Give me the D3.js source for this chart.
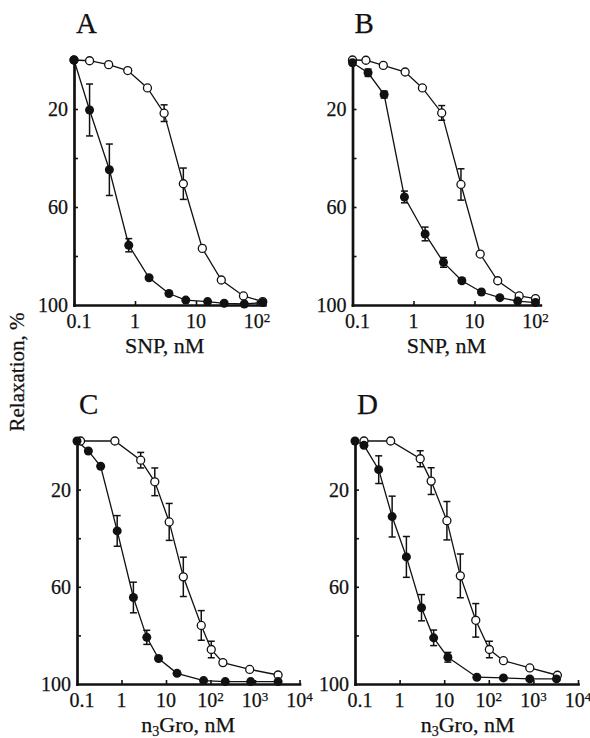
<!DOCTYPE html>
<html>
<head>
<meta charset="utf-8" />
<title>Relaxation curves</title>
<script src="https://d3js.org/d3.v7.min.js"></script>
<style>
    body { margin: 0; background: #fff; }
    text { font-family: "Liberation Serif", "Times New Roman", serif; fill: #111; stroke: #111; stroke-width: 0.25px; }
</style>
</head>
<body>
<div id="fig"></div>
<script type="text/javascript">
    // values: x in nM, y in % relaxation (0 at top, 100 at bottom)
    // panel A (SNP)
    var aFilledX = [0.1, 0.18, 0.38, 0.79, 1.7, 3.6, 6.8, 15.5, 29, 62, 124];
    var aFilledY = [0, 20.4, 44.8, 75.6, 88.9, 95.3, 98, 98.6, 99.3, 99.6, 99];
    var aFilledErr = [0, 10.6, 10.5, 2.7, 0, 0, 0, 0, 0, 0, 0];
    var aOpenX = [0.1, 0.18, 0.37, 0.76, 1.6, 3.0, 6.2, 12.7, 26, 60, 124];
    var aOpenY = [0, 0.3, 1.9, 4.3, 11.4, 21.7, 50.5, 76.9, 89.8, 96.3, 98.6];
    var aOpenErr = [0, 0, 0, 0, 0, 3.4, 6.4, 0, 0, 0, 0];
    // panel B (SNP)
    var bFilledX = [0.1, 0.18, 0.33, 0.71, 1.55, 3.1, 6.2, 13, 26, 51, 100];
    var bFilledY = [1.1, 5.2, 14.1, 55.9, 71, 82.6, 90.1, 94.7, 97, 98.4, 99];
    var bFilledErr = [0, 1.5, 1.4, 2.4, 2.8, 2, 1, 0, 0, 0, 0];
    var bOpenX = [0.1, 0.166, 0.32, 0.73, 1.4, 2.9, 6.0, 12.4, 24, 54, 100];
    var bOpenY = [0, 0.1, 2.2, 4.9, 11.4, 21.6, 50.8, 79.2, 90.1, 96.3, 97.4];
    var bOpenErr = [0, 0, 0, 0, 0, 3, 6.4, 0, 0, 0, 0];
    // panel C (n3Gro)
    var cFilledX = [0.1, 0.18, 0.34, 0.8, 1.85, 3.7, 6.8, 17.7, 70, 215, 800, 3300];
    var cFilledY = [0, 4.1, 10.4, 37, 64.4, 80.8, 89.5, 95.6, 98.6, 99, 99, 99];
    var cFilledErr = [0, 0, 0, 6.3, 6.3, 2.9, 0, 0, 0, 0, 0, 0];
    var cOpenX = [0.12, 0.71, 2.7, 5.6, 11.8, 24.5, 62, 104, 190, 760, 3300];
    var cOpenY = [0, 0, 7.9, 16.8, 33.3, 55.9, 75.9, 85.8, 91.2, 94, 96.3];
    var cOpenErr = [0, 0, 3.2, 5.7, 7.6, 8.1, 6.1, 3.4, 0, 0, 0];
    // panel D (n3Gro)
    var dFilledX = [0.1, 0.159, 0.34, 0.68, 1.42, 3.1, 5.8, 12.1, 54, 213, 830, 3300];
    var dFilledY = [0, 1.8, 11.8, 31.1, 47.7, 68.6, 81, 89, 97.2, 97.5, 97.9, 97.9];
    var dFilledErr = [0, 0, 5.7, 8.4, 8.4, 5.4, 3.2, 2, 0, 0, 0, 0];
    var dOpenX = [0.159, 0.63, 2.9, 5.1, 11.5, 23, 51, 103, 213, 830, 3450];
    var dOpenY = [0, 0, 7.3, 16.5, 32.8, 55.5, 73.8, 85.8, 90.4, 93.4, 96.4];
    var dOpenErr = [0, 0, 3.3, 5.5, 7.9, 9, 6.9, 3.4, 0, 0, 0];

    // axes
    var snpTicks = [0.1, 1, 10, 100];
    var snpTickLabels = [["0.1", ""], ["1", ""], ["10", ""], ["10", "2"]];
    var groTicks = [0.1, 1, 10, 100, 1000, 10000];
    var groTickLabels = [["0.1", ""], ["1", ""], ["10", ""], ["10", "2"], ["10", "3"], ["10", "4"]];
    var yTicks = [20, 40, 60, 80];
    var yTickLabels = [20, 60, 100];
    var yTitle = "Relaxation, %";

    function zip(xs, ys, es) {
        return xs.map(function(d, i) { return {x: d, y: ys[i], e: es[i]}; });
    }

    var panels = [
        {letter: "A", left: 74, top: 60, bottom: 305, decade: 61, xEnd: 135, titleAt: 0.475,
         ticks: snpTicks, labels: snpTickLabels, title: ["SNP, nM"],
         filled: zip(aFilledX, aFilledY, aFilledErr), open: zip(aOpenX, aOpenY, aOpenErr)},
        {letter: "B", left: 352.5, top: 60, bottom: 305, decade: 61, xEnd: 120, titleAt: 0.5,
         ticks: snpTicks, labels: snpTickLabels, title: ["SNP, nM"],
         filled: zip(bFilledX, bFilledY, bFilledErr), open: zip(bOpenX, bOpenY, bOpenErr)},
        {letter: "C", left: 77, top: 441, bottom: 684, decade: 44.5, xEnd: 10000, titleAt: 0.5,
         ticks: groTicks, labels: groTickLabels, title: ["n", "3", "Gro, nM"],
         filled: zip(cFilledX, cFilledY, cFilledErr), open: zip(cOpenX, cOpenY, cOpenErr)},
        {letter: "D", left: 355, top: 441, bottom: 684, decade: 44.6, xEnd: 10000, titleAt: 0.505,
         ticks: groTicks, labels: groTickLabels, title: ["n", "3", "Gro, nM"],
         filled: zip(dFilledX, dFilledY, dFilledErr), open: zip(dOpenX, dOpenY, dOpenErr)}
    ];

    var svg = d3.select("#fig").append("svg")
        .attr("width", 590)
        .attr("height", 738);

    svg.append("text")
        .attr("transform", "translate(24,372) rotate(-90)")
        .attr("text-anchor", "middle")
        .style("font-size", "21px")
        .text(yTitle);

    panels.forEach(drawPanel);

    function drawPanel(p) {
        var x = d3.scaleLog()
            .domain([0.1, p.xEnd])
            .range([p.left, p.left + p.decade * Math.log10(p.xEnd / 0.1)]);
        var y = d3.scaleLinear().domain([0, 100]).range([p.top, p.bottom]);
        var g = svg.append("g");

        // axes, ticks pointing inward
        var xAxis = g.append("g")
            .attr("transform", "translate(0," + p.bottom + ")")
            .call(d3.axisBottom(x).tickValues(p.ticks).tickSize(-4).tickSizeOuter(0).tickFormat(""));
        var yAxis = g.append("g")
            .attr("transform", "translate(" + p.left + ",0)")
            .call(d3.axisLeft(y).tickValues(yTicks).tickSize(-4).tickSizeOuter(0).tickFormat(""));
        [xAxis, yAxis].forEach(function(a) {
            a.select(".domain").attr("stroke", "#111").attr("stroke-width", 2.7)
                .attr("stroke-linecap", "square");
            a.selectAll(".tick line").attr("stroke", "#111").attr("stroke-width", 1.6);
        });

        // tick labels
        var xl = g.selectAll(".xl")
            .data(p.ticks)
            .enter()
            .append("text")
            .attr("class", "xl")
            .attr("x", function(d, i) { return x(d) + (i === 0 ? 5 : 0); })
            .attr("y", p.bottom + 23)
            .attr("text-anchor", "middle")
            .style("font-size", "20px");
        xl.append("tspan").text(function(d, i) { return p.labels[i][0]; });
        xl.append("tspan")
            .attr("dy", "-0.45em")
            .style("font-size", "13px")
            .text(function(d, i) { return p.labels[i][1]; });

        g.selectAll(".yl")
            .data(yTickLabels)
            .enter()
            .append("text")
            .attr("x", p.left - 6)
            .attr("y", function(d) { return y(d); })
            .attr("dy", "0.35em")
            .attr("text-anchor", "end")
            .style("font-size", "20px")
            .text(function(d) { return d; });

        // axis title
        var t = g.append("text")
            .attr("x", p.left + (x.range()[1] - p.left) * p.titleAt)
            .attr("y", p.bottom + 48)
            .attr("text-anchor", "middle")
            .style("font-size", "22px");
        t.append("tspan").text(p.title[0]);
        if (p.title.length > 1) {
            t.append("tspan").attr("dy", "0.25em").style("font-size", "14px").text(p.title[1]);
            t.append("tspan").attr("dy", "-0.16em").text(p.title[2]);
        }

        // panel letter
        g.append("text")
            .attr("x", p.left + 2)
            .attr("y", p.top - 27)
            .style("font-size", "29px")
            .text(p.letter);

        var line = d3.line()
            .x(function(d) { return x(d.x); })
            .y(function(d) { return y(d.y); });

        [p.open, p.filled].forEach(function(s) {
            g.append("path")
                .datum(s)
                .attr("d", line)
                .attr("fill", "none")
                .attr("stroke", "#111")
                .attr("stroke-width", 1.3);
        });

        [p.open, p.filled].forEach(function(s) {
            var bars = s.filter(function(d) { return d.e > 0; });
            var eb = g.selectAll(null).data(bars).enter().append("g")
                .attr("stroke", "#111").attr("stroke-width", 1.5);
            eb.append("line")
                .attr("x1", function(d) { return x(d.x); })
                .attr("x2", function(d) { return x(d.x); })
                .attr("y1", function(d) { return y(d.y - d.e); })
                .attr("y2", function(d) { return y(d.y + d.e); });
            [-1, 1].forEach(function(sg) {
                eb.append("line")
                    .attr("x1", function(d) { return x(d.x) - 3.5; })
                    .attr("x2", function(d) { return x(d.x) + 3.5; })
                    .attr("y1", function(d) { return y(d.y + sg * d.e); })
                    .attr("y2", function(d) { return y(d.y + sg * d.e); });
            });
        });

        g.selectAll(".open")
            .data(p.open)
            .enter()
            .append("circle")
            .attr("cx", function(d) { return x(d.x); })
            .attr("cy", function(d) { return y(d.y); })
            .attr("r", 4)
            .attr("fill", "#fff")
            .attr("stroke", "#111")
            .attr("stroke-width", 1.3);

        g.selectAll(".filled")
            .data(p.filled)
            .enter()
            .append("circle")
            .attr("cx", function(d) { return x(d.x); })
            .attr("cy", function(d) { return y(d.y); })
            .attr("r", 4.5)
            .attr("fill", "#111");
    }
</script>
</body>
</html>
